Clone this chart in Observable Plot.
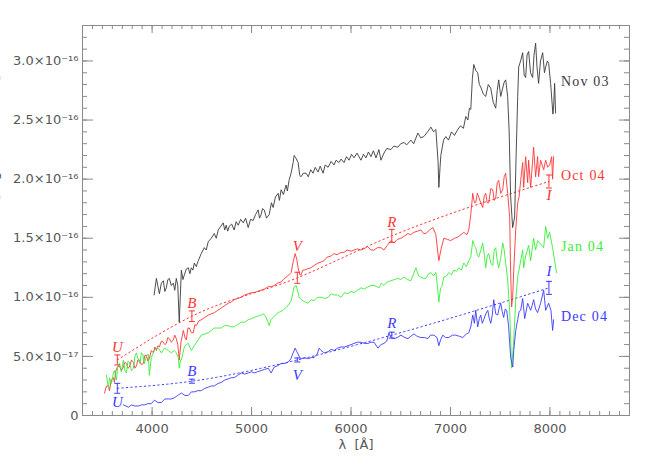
<!DOCTYPE html>
<html><head><meta charset="utf-8">
<script src="https://cdn.jsdelivr.net/npm/d3@7"></script>
<script src="https://cdn.jsdelivr.net/npm/@observablehq/plot@0.6"></script>
<style>
html,body{margin:0;padding:0;background:#fff;overflow:hidden;}
#chart svg{display:block;overflow:visible;}
</style></head><body><div id="chart"></div>
<script>
// Flux values in units of 1e-16 erg s^-1 cm^-2 Å^-1, wavelength in Å
const nov03 = [[4020,1.02],[4043,1.16],[4073,1.03],[4093,1.12],[4113,1.14],[4128,1.05],[4143,1.08],[4158,1.15],[4173,1.16],[4193,1.10],[4213,1.12],[4228,1.06],[4243,1.16],[4258,1.10],[4273,0.79],[4283,1.00],[4294,1.23],[4310,1.15],[4324,1.19],[4344,1.24],[4364,1.25],[4380,1.20],[4394,1.25],[4410,1.23],[4424,1.29],[4444,1.26],[4464,1.31],[4494,1.37],[4524,1.42],[4544,1.40],[4564,1.47],[4595,1.50],[4625,1.54],[4645,1.50],[4665,1.57],[4690,1.60],[4715,1.63],[4730,1.57],[4745,1.61],[4760,1.56],[4775,1.60],[4800,1.62],[4825,1.57],[4845,1.64],[4866,1.61],[4890,1.66],[4916,1.63],[4940,1.67],[4966,1.59],[4990,1.66],[5016,1.65],[5040,1.70],[5066,1.74],[5080,1.67],[5096,1.70],[5110,1.75],[5127,1.74],[5150,1.67],[5177,1.70],[5200,1.80],[5217,1.76],[5240,1.85],[5267,1.88],[5280,1.82],[5297,1.91],[5320,1.87],[5347,1.95],[5360,1.90],[5377,1.99],[5400,2.06],[5418,2.14],[5428,2.20],[5445,2.18],[5468,2.14],[5485,2.03],[5498,2.02],[5520,2.05],[5548,2.05],[5570,2.02],[5595,2.08],[5618,2.05],[5640,2.10],[5669,2.06],[5690,2.11],[5719,2.05],[5740,2.12],[5769,2.10],[5800,2.15],[5829,2.12],[5850,2.16],[5879,2.14],[5900,2.17],[5929,2.14],[5955,2.19],[5980,2.16],[6005,2.21],[6030,2.18],[6060,2.22],[6100,2.16],[6125,2.21],[6150,2.18],[6175,2.23],[6200,2.19],[6225,2.24],[6251,2.18],[6280,2.25],[6301,2.16],[6331,2.22],[6360,2.26],[6401,2.25],[6430,2.28],[6471,2.27],[6500,2.30],[6532,2.31],[6560,2.29],[6602,2.33],[6630,2.30],[6672,2.39],[6700,2.35],[6732,2.36],[6770,2.40],[6803,2.44],[6830,2.40],[6853,2.42],[6875,2.15],[6883,1.93],[6895,2.10],[6903,2.20],[6930,2.33],[6953,2.36],[6980,2.33],[7010,2.40],[7040,2.37],[7073,2.42],[7100,2.45],[7130,2.43],[7154,2.53],[7175,2.50],[7190,2.60],[7204,2.59],[7220,2.85],[7234,2.97],[7254,2.92],[7274,2.90],[7290,2.80],[7304,2.78],[7330,2.72],[7354,2.70],[7380,2.80],[7405,2.77],[7430,2.65],[7455,2.60],[7470,2.75],[7485,2.84],[7505,2.70],[7525,2.77],[7540,2.82],[7555,2.84],[7575,2.70],[7590,2.40],[7605,1.85],[7625,1.59],[7645,1.68],[7660,2.20],[7676,2.70],[7686,2.95],[7705,3.00],[7726,3.07],[7741,2.88],[7756,2.86],[7770,3.05],[7786,3.08],[7805,2.90],[7826,2.86],[7840,3.05],[7856,3.15],[7870,2.95],[7886,2.81],[7905,3.00],[7927,3.07],[7945,2.90],[7957,2.95],[7975,3.00],[7987,2.98],[8007,2.81],[8030,2.55],[8037,2.61],[8047,2.81],[8057,2.56]];

const oct04 = [[3521,0.19],[3541,0.25],[3561,0.25],[3571,0.21],[3591,0.30],[3611,0.32],[3621,0.28],[3636,0.38],[3651,0.41],[3671,0.42],[3691,0.38],[3711,0.41],[3726,0.45],[3742,0.44],[3757,0.40],[3772,0.41],[3792,0.47],[3812,0.45],[3827,0.40],[3842,0.42],[3857,0.47],[3872,0.47],[3892,0.43],[3912,0.44],[3927,0.51],[3942,0.51],[3957,0.46],[3972,0.48],[3992,0.55],[4013,0.53],[4028,0.58],[4043,0.55],[4058,0.59],[4073,0.58],[4093,0.63],[4113,0.62],[4128,0.60],[4143,0.61],[4158,0.66],[4173,0.65],[4193,0.62],[4213,0.64],[4228,0.68],[4243,0.65],[4258,0.60],[4273,0.47],[4290,0.62],[4314,0.72],[4330,0.66],[4344,0.64],[4360,0.74],[4374,0.74],[4395,0.70],[4414,0.70],[4430,0.77],[4444,0.76],[4470,0.80],[4494,0.81],[4530,0.83],[4565,0.85],[4595,0.86],[4625,0.87],[4660,0.89],[4695,0.91],[4730,0.93],[4765,0.95],[4795,0.96],[4825,0.98],[4860,0.99],[4896,1.00],[4930,1.02],[4966,1.03],[5000,1.04],[5026,1.04],[5060,1.05],[5096,1.06],[5130,1.07],[5167,1.09],[5200,1.09],[5227,1.10],[5260,1.12],[5297,1.13],[5320,1.15],[5347,1.17],[5375,1.19],[5398,1.21],[5418,1.30],[5438,1.37],[5455,1.32],[5468,1.25],[5485,1.19],[5498,1.19],[5515,1.23],[5528,1.23],[5560,1.24],[5598,1.25],[5630,1.27],[5669,1.29],[5700,1.30],[5729,1.31],[5760,1.34],[5800,1.35],[5829,1.37],[5860,1.36],[5900,1.38],[5929,1.38],[5960,1.40],[6000,1.39],[6030,1.40],[6065,1.41],[6100,1.40],[6130,1.41],[6165,1.43],[6200,1.40],[6231,1.40],[6265,1.42],[6301,1.42],[6331,1.40],[6365,1.44],[6401,1.48],[6431,1.46],[6465,1.49],[6502,1.50],[6540,1.52],[6572,1.54],[6600,1.53],[6632,1.55],[6670,1.56],[6702,1.57],[6730,1.54],[6752,1.54],[6790,1.57],[6823,1.59],[6853,1.53],[6870,1.40],[6883,1.31],[6903,1.40],[6933,1.50],[6970,1.49],[7003,1.48],[7040,1.50],[7074,1.51],[7105,1.53],[7134,1.55],[7165,1.53],[7184,1.57],[7204,1.70],[7224,1.88],[7240,1.80],[7254,1.80],[7270,1.88],[7284,1.85],[7304,1.80],[7324,1.76],[7340,1.86],[7354,1.88],[7370,1.80],[7385,1.80],[7405,1.92],[7425,1.91],[7440,1.82],[7455,1.84],[7470,1.97],[7485,1.99],[7505,1.88],[7525,1.91],[7540,2.02],[7555,2.05],[7575,1.88],[7595,1.68],[7605,1.20],[7615,0.92],[7625,1.00],[7636,1.23],[7656,1.57],[7676,1.80],[7690,1.85],[7706,1.99],[7726,2.14],[7736,1.93],[7756,2.19],[7776,1.97],[7786,2.16],[7806,1.93],[7836,2.27],[7856,2.02],[7876,2.19],[7886,2.02],[7906,2.16],[7937,2.08],[7957,2.16],[7977,2.10],[7997,2.12],[8017,2.19],[8027,2.00],[8037,2.19]];

const jan04 = [[3541,0.34],[3561,0.23],[3571,0.32],[3591,0.27],[3611,0.36],[3621,0.38],[3641,0.30],[3656,0.42],[3671,0.44],[3691,0.37],[3711,0.47],[3726,0.38],[3742,0.36],[3757,0.46],[3772,0.45],[3792,0.38],[3812,0.40],[3827,0.50],[3842,0.53],[3862,0.47],[3877,0.44],[3892,0.53],[3907,0.52],[3922,0.44],[3942,0.50],[3962,0.52],[3972,0.34],[3992,0.49],[4023,0.55],[4043,0.57],[4063,0.57],[4093,0.53],[4123,0.57],[4143,0.56],[4163,0.55],[4193,0.53],[4223,0.55],[4243,0.53],[4263,0.49],[4273,0.40],[4285,0.47],[4294,0.47],[4324,0.58],[4344,0.60],[4364,0.61],[4394,0.55],[4424,0.59],[4464,0.64],[4494,0.68],[4530,0.69],[4565,0.70],[4595,0.72],[4625,0.74],[4660,0.74],[4695,0.74],[4730,0.76],[4765,0.76],[4795,0.75],[4825,0.75],[4860,0.77],[4896,0.79],[4930,0.79],[4966,0.81],[5000,0.82],[5026,0.83],[5060,0.84],[5096,0.85],[5120,0.86],[5147,0.83],[5177,0.76],[5195,0.81],[5217,0.83],[5240,0.85],[5267,0.87],[5290,0.88],[5317,0.89],[5340,0.91],[5367,0.93],[5398,0.97],[5428,1.09],[5448,1.10],[5465,1.05],[5478,1.00],[5500,0.98],[5518,0.97],[5540,0.96],[5568,0.95],[5600,0.98],[5628,0.97],[5660,1.00],[5699,1.00],[5735,0.99],[5769,1.00],[5800,1.03],[5829,1.02],[5865,1.02],[5899,1.00],[5935,1.04],[5970,1.03],[6000,1.05],[6030,1.04],[6065,1.06],[6100,1.08],[6135,1.07],[6170,1.09],[6200,1.10],[6231,1.10],[6260,1.09],[6281,1.08],[6305,1.12],[6331,1.10],[6365,1.13],[6401,1.14],[6435,1.15],[6471,1.16],[6500,1.15],[6532,1.17],[6570,1.15],[6602,1.14],[6630,1.20],[6652,1.25],[6680,1.18],[6702,1.17],[6730,1.16],[6752,1.16],[6780,1.20],[6803,1.21],[6830,1.18],[6853,1.21],[6870,1.08],[6883,0.96],[6900,1.08],[6913,1.09],[6933,1.17],[6960,1.18],[6983,1.21],[7010,1.19],[7033,1.23],[7060,1.22],[7084,1.25],[7110,1.23],[7134,1.29],[7160,1.26],[7184,1.31],[7204,1.34],[7224,1.48],[7240,1.44],[7254,1.42],[7270,1.36],[7284,1.34],[7305,1.40],[7324,1.46],[7340,1.36],[7354,1.25],[7370,1.35],[7385,1.37],[7405,1.29],[7425,1.27],[7440,1.40],[7455,1.42],[7470,1.31],[7485,1.25],[7505,1.33],[7525,1.46],[7540,1.40],[7555,1.29],[7575,1.15],[7595,0.89],[7615,0.40],[7636,0.64],[7656,0.98],[7676,1.17],[7706,1.31],[7726,1.40],[7736,1.25],[7756,1.35],[7786,1.44],[7806,1.31],[7836,1.50],[7856,1.40],[7876,1.48],[7906,1.45],[7937,1.42],[7957,1.60],[7977,1.50],[7997,1.55],[8027,1.42],[8047,1.31],[8067,1.21]];

const dec04 = [[3711,0.09],[3737,0.08],[3762,0.07],[3792,0.09],[3827,0.08],[3862,0.08],[3892,0.09],[3922,0.09],[3957,0.10],[3992,0.10],[4023,0.13],[4058,0.11],[4093,0.11],[4128,0.14],[4163,0.14],[4193,0.14],[4223,0.15],[4258,0.17],[4294,0.19],[4330,0.17],[4364,0.17],[4395,0.20],[4424,0.20],[4460,0.21],[4494,0.21],[4530,0.23],[4565,0.24],[4595,0.25],[4625,0.25],[4660,0.27],[4695,0.28],[4730,0.30],[4765,0.31],[4795,0.32],[4825,0.32],[4860,0.34],[4896,0.36],[4930,0.35],[4966,0.36],[5000,0.37],[5026,0.36],[5060,0.37],[5096,0.38],[5130,0.39],[5167,0.40],[5197,0.36],[5227,0.41],[5260,0.42],[5297,0.44],[5330,0.44],[5367,0.45],[5395,0.48],[5418,0.53],[5438,0.57],[5455,0.54],[5468,0.52],[5485,0.49],[5498,0.48],[5530,0.49],[5568,0.48],[5600,0.49],[5628,0.49],[5660,0.52],[5680,0.57],[5699,0.55],[5730,0.53],[5769,0.54],[5800,0.56],[5829,0.55],[5865,0.57],[5899,0.58],[5935,0.58],[5970,0.59],[6000,0.60],[6030,0.61],[6065,0.62],[6100,0.62],[6135,0.61],[6170,0.61],[6200,0.62],[6231,0.62],[6271,0.57],[6300,0.60],[6331,0.61],[6360,0.63],[6381,0.70],[6400,0.66],[6431,0.65],[6465,0.66],[6502,0.68],[6540,0.66],[6572,0.65],[6600,0.67],[6632,0.69],[6665,0.67],[6702,0.66],[6740,0.66],[6772,0.65],[6800,0.68],[6833,0.68],[6865,0.66],[6883,0.59],[6900,0.64],[6923,0.68],[6950,0.66],[6983,0.66],[7020,0.68],[7053,0.68],[7090,0.67],[7124,0.66],[7160,0.69],[7184,0.70],[7204,0.75],[7224,0.85],[7240,0.78],[7254,0.89],[7274,0.75],[7290,0.82],[7304,0.85],[7320,0.78],[7334,0.81],[7355,0.86],[7375,0.89],[7390,0.82],[7405,0.78],[7420,0.85],[7435,0.98],[7455,0.86],[7475,0.85],[7490,0.91],[7505,0.95],[7520,0.88],[7535,0.83],[7550,0.90],[7565,0.89],[7585,0.75],[7605,0.49],[7626,0.41],[7636,0.55],[7656,0.72],[7676,0.81],[7690,0.88],[7706,0.89],[7726,0.99],[7746,0.82],[7776,0.95],[7806,0.89],[7821,0.93],[7836,0.98],[7856,0.90],[7876,0.87],[7906,0.95],[7937,1.06],[7957,0.89],[7987,0.95],[8010,0.89],[8027,0.72],[8037,0.81]];

// Photometry (same units)
const bands = ["U","B","V","R","I"];
const bandLambda = [3650, 4400, 5460, 6410, 7990];
const oct04Phot = [0.47, 0.84, 1.165, 1.52, 1.98];
const oct04Err  = [0.042, 0.045, 0.047, 0.055, 0.055];
const dec04Phot = [0.23, 0.29, 0.47, 0.68, 1.08];
const dec04Err  = [0.042, 0.017, 0.017, 0.025, 0.055];

// Epochs
const epochNames = ["Nov 03", "Oct 04", "Jan 04", "Dec 04"];
const epochLabelFlux = [2.83, 2.03, 1.43, 0.84];
const epochLabelLambda = 8110;

// Axes
const xTicks = [4000, 5000, 6000, 7000, 8000];
const xTickLabels = ["4000", "5000", "6000", "7000", "8000"];
const yTicks = [0, 0.5, 1, 1.5, 2, 2.5, 3];
const yTickLabels = ["0", "5.0×10⁻¹⁷", "1.0×10⁻¹⁶", "1.5×10⁻¹⁶", "2.0×10⁻¹⁶", "2.5×10⁻¹⁶", "3.0×10⁻¹⁶"];

// ---- styling / layout (not data) ----
const colors = {"Nov 03": "#3a3a3a", "Oct 04": "#ff3535", "Jan 04": "#38ee38", "Dec 04": "#3b3bff"};
const oct04LabelDy = [-13, -13, -32, -14, 14];
const dec04LabelDy = [14, -10, 15, -12, -17];
const W = 654, H = 467, mL = 82, mR = 25, mT = 25, mB = 52;
const iw = W - mL - mR, ih = H - mT - mB;
const axisGray = "#8a8a8a";
const textGray = "#585858";

const spectra = [
  {name: "Nov 03", data: nov03},
  {name: "Oct 04", data: oct04},
  {name: "Jan 04", data: jan04},
  {name: "Dec 04", data: dec04}
];
const phot = [
  {name: "Oct 04", f: oct04Phot, e: oct04Err, dy: oct04LabelDy},
  {name: "Dec 04", f: dec04Phot, e: dec04Err, dy: dec04LabelDy}
].map(s => ({...s, rows: bands.map((b, i) => ({band: b, lam: bandLambda[i], f: s.f[i], e: s.e[i], dy: s.dy[i]}))}));

const xMinor = d3.range(3300, 8801, 100);
const yMinor = d3.range(0, 3.301, 0.1);

const marks = [];
// ticks inside the frame on all four sides
marks.push(Plot.ruleX(xMinor, {x: d => d, insetTop: ih - 4, stroke: axisGray}));
marks.push(Plot.ruleX(xMinor, {x: d => d, insetBottom: ih - 4, stroke: axisGray}));
marks.push(Plot.ruleX(xTicks, {x: d => d, insetTop: ih - 8, stroke: axisGray}));
marks.push(Plot.ruleX(xTicks, {x: d => d, insetBottom: ih - 8, stroke: axisGray}));
marks.push(Plot.ruleY(yMinor, {y: d => d, insetRight: iw - 5, stroke: axisGray}));
marks.push(Plot.ruleY(yMinor, {y: d => d, insetLeft: iw - 5, stroke: axisGray}));
marks.push(Plot.ruleY(yTicks, {y: d => d, insetRight: iw - 11, stroke: axisGray}));
marks.push(Plot.ruleY(yTicks, {y: d => d, insetLeft: iw - 10, stroke: axisGray}));
marks.push(Plot.frame({stroke: axisGray}));

// tick labels
marks.push(Plot.axisX(xTicks, {tickSize: 0, tickPadding: 8, fill: textGray, fontSize: 13, fontFamily: "DejaVu Sans", label: null,
  tickFormat: d => xTickLabels[xTicks.indexOf(d)]}));
marks.push(Plot.axisY(yTicks, {tickSize: 0, tickPadding: 4, fill: textGray, fontSize: 13, fontFamily: "DejaVu Sans", label: null,
  tickFormat: d => yTickLabels[yTicks.indexOf(d)]}));
marks.push(Plot.text(["λ  [Å]"], {frameAnchor: "bottom", dy: 33, fill: textGray, fontSize: 13, fontFamily: "DejaVu Sans"}));
marks.push(Plot.text(["Fλ [erg s⁻¹ cm⁻² Å⁻¹]"], {frameAnchor: "left", dx: -(mL + 7), rotate: -90, fill: textGray, fontSize: 14, fontFamily: "DejaVu Sans"}));

// photometric interpolation (dotted)
for (const p of phot) {
  const c = colors[p.name];
  marks.push(Plot.line(p.rows, {x: "lam", y: "f", curve: "monotone-x", stroke: c, strokeWidth: 1, strokeDasharray: "1.5,3"}));
}
// spectra
for (const s of spectra) {
  marks.push(Plot.line(s.data, {x: d => d[0], y: d => d[1], stroke: colors[s.name], strokeWidth: 0.9}));
}
// error bars and band labels
for (const p of phot) {
  const c = colors[p.name];
  marks.push(Plot.ruleX(p.rows, {x: "lam", y1: d => d.f - d.e, y2: d => d.f + d.e, stroke: c, strokeWidth: 1}));
  marks.push(Plot.link(p.rows, {x1: d => d.lam - 30, x2: d => d.lam + 30, y1: d => d.f - d.e, y2: d => d.f - d.e, stroke: c}));
  marks.push(Plot.link(p.rows, {x1: d => d.lam - 30, x2: d => d.lam + 30, y1: d => d.f + d.e, y2: d => d.f + d.e, stroke: c}));
  for (const r of p.rows) {
    marks.push(Plot.text([r], {x: "lam", y: "f", text: "band", dy: r.dy, fill: c, fontSize: 15,
      fontFamily: "Liberation Serif", fontStyle: "italic"}));
  }
}
// epoch labels
marks.push(Plot.text(epochNames, {x: () => epochLabelLambda, y: (d, i) => epochLabelFlux[i], text: d => d,
  fill: d => colors[d], textAnchor: "start", fontSize: 14, fontFamily: "Liberation Serif"}));

const chart = Plot.plot({
  width: W, height: H,
  marginLeft: mL, marginRight: mR, marginTop: mT, marginBottom: mB,
  x: {domain: [3300, 8800], axis: null},
  y: {domain: [0, 3.3], axis: null},
  style: {fontFamily: "DejaVu Sans", background: "#fff"},
  marks
});
chart.querySelectorAll("text").forEach(t => {
  if (epochNames.includes(t.textContent)) t.setAttribute("letter-spacing", "1.2");
});
document.getElementById("chart").appendChild(chart);
</script>
</body></html>
